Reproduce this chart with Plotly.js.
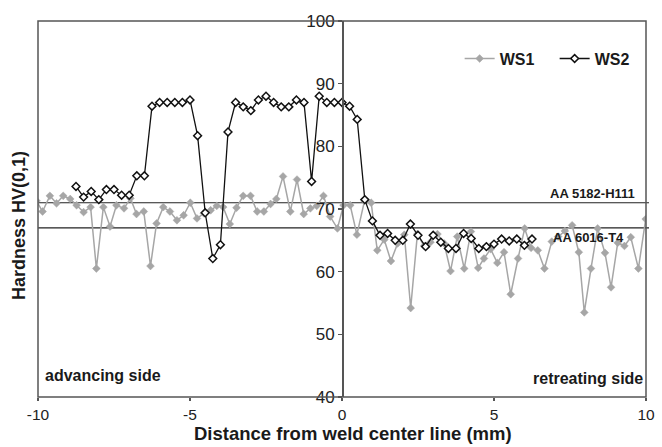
<!DOCTYPE html>
<html>
<head>
<meta charset="utf-8">
<script src="https://cdn.plot.ly/plotly-3.0.1.min.js"></script>
<style>html,body{margin:0;padding:0;background:#fff}#chart{width:662px;height:447px}</style>
</head>
<body>
<div id="chart"></div>
<script>
// WS1 (grey diamonds)
const ws1X = [-10.05, -9.85, -9.61, -9.39, -9.17, -8.94, -8.73, -8.50, -8.27, -8.08, -7.85, -7.63, -7.42, -7.17, -6.96, -6.76, -6.52, -6.30, -6.10, -5.88, -5.66, -5.43, -5.21, -4.99, -4.77, -4.54, -4.32, -4.12, -3.91, -3.69, -3.47, -3.25, -3.01, -2.79, -2.57, -2.35, -2.16, -1.94, -1.70, -1.48, -1.26, -1.04, -0.83, -0.61, -0.39, -0.15, 0.05, 0.27, 0.49, 0.74, 0.96, 1.16, 1.39, 1.61, 1.83, 2.05, 2.26, 2.48, 2.70, 2.91, 3.14, 3.36, 3.57, 3.79, 4.02, 4.24, 4.48, 4.67, 4.89, 5.11, 5.33, 5.55, 5.79, 6.01, 6.22, 6.44, 6.66, 6.90, 7.11, 7.33, 7.57, 7.79, 7.97, 8.19, 8.41, 8.65, 8.85, 9.07, 9.29, 9.50, 9.75, 9.99];
const ws1Y = [71.3, 69.6, 72.1, 70.9, 72.1, 71.6, 70.6, 69.5, 70.3, 60.5, 70.3, 67.2, 70.6, 70.1, 71.7, 69.2, 69.6, 60.9, 67.7, 70.3, 69.6, 68.2, 69.0, 71.0, 68.5, 69.3, 69.8, 70.5, 70.3, 67.6, 70.2, 72.1, 72.1, 69.6, 69.6, 70.8, 71.6, 75.2, 69.6, 74.7, 69.2, 70.1, 70.5, 72.1, 68.8, 66.9, 70.6, 70.6, 65.9, 71.3, 71.0, 63.4, 65.1, 61.7, 64.5, 65.9, 54.2, 66.0, 64.1, 64.7, 66.0, 64.5, 60.1, 65.6, 60.5, 66.4, 60.6, 62.1, 63.6, 61.4, 63.1, 56.4, 62.1, 66.9, 63.8, 63.4, 60.5, 64.8, 65.6, 66.5, 67.4, 63.1, 53.5, 60.5, 66.9, 63.0, 57.5, 64.6, 64.1, 65.5, 60.5, 68.4];

// WS2 (black line, open markers)
const ws2X = [-8.75, -8.5, -8.25, -8.0, -7.75, -7.5, -7.25, -7.0, -6.75, -6.5, -6.25, -6.0, -5.75, -5.5, -5.25, -5.0, -4.75, -4.5, -4.25, -4.0, -3.75, -3.5, -3.25, -3.0, -2.75, -2.5, -2.25, -2.0, -1.75, -1.5, -1.25, -1.0, -0.75, -0.5, -0.25, 0.0, 0.25, 0.5, 0.75, 1.0, 1.25, 1.5, 1.75, 2.0, 2.25, 2.5, 2.75, 3.0, 3.25, 3.5, 3.75, 4.0, 4.25, 4.5, 4.75, 5.0, 5.25, 5.5, 5.75, 6.0, 6.25];
const ws2Y = [73.6, 71.9, 72.8, 71.5, 73.1, 73.1, 72.2, 72.2, 75.3, 75.3, 86.4, 87.0, 87.0, 87.0, 87.0, 87.4, 81.7, 69.4, 62.1, 64.3, 82.3, 87.0, 86.3, 85.7, 87.4, 88.0, 87.0, 86.3, 86.3, 87.4, 87.0, 74.4, 88.0, 87.0, 87.0, 87.0, 86.4, 84.3, 71.5, 68.1, 65.8, 66.1, 65.0, 65.0, 67.6, 65.8, 64.0, 65.8, 64.7, 63.7, 63.7, 66.1, 65.3, 63.7, 64.0, 64.4, 65.2, 64.9, 65.2, 64.2, 65.2];

// Reference base-material hardness levels
const refNames = ["AA 5182-H111", "AA 6016-T4"];
const refLevels = [71, 67];

const xTicks = [-10, -5, 0, 5, 10];
const yTicks = [40, 50, 60, 70, 80, 90, 100];

const FONT = "Arial, 'Liberation Sans', Helvetica, sans-serif";
const TXT = "#1a1a1a";

const traces = [
  {
    x: ws1X, y: ws1Y, name: "WS1", type: "scatter", mode: "lines+markers",
    line: {color: "#a6a6a6", width: 1.5},
    marker: {symbol: "diamond", size: 6, color: "#a6a6a6", line: {color: "#a6a6a6", width: 0.5}},
    cliponaxis: true
  },
  {
    x: ws2X, y: ws2Y, name: "WS2", type: "scatter", mode: "lines+markers",
    line: {color: "#111111", width: 1.3},
    marker: {symbol: "diamond", size: 6, color: "#ffffff", line: {color: "#111111", width: 1.5}},
    cliponaxis: true
  }
];

const shapes = [
  {type: "rect", xref: "paper", yref: "paper", x0: 0, x1: 1, y0: 0, y1: 1,
   line: {color: "#555555", width: 1.5}, layer: "above"}
];
refLevels.forEach(v => shapes.push({
  type: "line", xref: "paper", yref: "y", x0: 0, x1: 1.005, y0: v, y1: v,
  line: {color: "#222222", width: 1.2}, layer: "below"
}));

const annotations = [
  {text: "<b>" + refNames[0] + "</b>", xref: "paper", yref: "y", x: 0.985, y: refLevels[0],
   xanchor: "right", yanchor: "bottom", showarrow: false, yshift: 0,
   font: {family: FONT, size: 13, color: TXT}},
  {text: "<b>" + refNames[1] + "</b>", xref: "paper", yref: "y", x: 0.967, y: refLevels[1],
   xanchor: "right", yanchor: "top", showarrow: false, yshift: 0,
   font: {family: FONT, size: 13, color: TXT}},
  {text: "<b>advancing side</b>", xref: "paper", yref: "paper", x: 0.008, y: 0.058,
   xanchor: "left", yanchor: "middle", showarrow: false,
   font: {family: FONT, size: 16, color: TXT}},
  {text: "<b>retreating side</b>", xref: "paper", yref: "paper", x: 0.998, y: 0.048,
   xanchor: "right", yanchor: "middle", showarrow: false,
   font: {family: FONT, size: 16, color: TXT}},
  {text: "<b>Hardness HV(0,1)</b>", xref: "paper", yref: "paper", x: -0.031, y: 0.455,
   xanchor: "center", yanchor: "middle", textangle: -90, showarrow: false,
   font: {family: FONT, size: 18, color: TXT}},
  {text: "<b>Distance from weld center line (mm)</b>", xref: "paper", yref: "paper",
   x: 0.518, y: -0.1315, xanchor: "center", yanchor: "bottom", showarrow: false,
   font: {family: FONT, size: 18.5, color: TXT}}
];

const layout = {
  width: 662, height: 447,
  margin: {l: 38, r: 14, t: 21, b: 50},
  paper_bgcolor: "#ffffff", plot_bgcolor: "#ffffff",
  font: {family: FONT, color: TXT},
  showlegend: true,
  legend: {orientation: "h", x: 1.006, xanchor: "right", y: 0.9, yanchor: "middle",
           font: {family: FONT, size: 16, color: TXT, weight: "bold"},
           bgcolor: "rgba(0,0,0,0)", itemwidth: 30, entrywidth: 50, entrywidthmode: "pixels"},
  xaxis: {
    range: [-10, 10], tickvals: xTicks, ticktext: xTicks.map(String),
    showgrid: false, zeroline: false, showline: false,
    ticks: "outside", ticklen: 3, tickcolor: "#555555", tickwidth: 1.3,
    tickfont: {family: FONT, size: 15.5, color: "#222222"}
  },
  yaxis: {
    range: [40, 100], tickvals: yTicks, ticktext: yTicks.map(String),
    anchor: "free", position: 0.5,
    showgrid: false, zeroline: false, showline: true, linecolor: "#555555", linewidth: 1.5,
    ticks: "outside", ticklen: 4, tickcolor: "#555555", tickwidth: 1.3,
    tickfont: {family: FONT, size: 17, color: "#222222"}
  },
  shapes: shapes,
  annotations: annotations
};

Plotly.newPlot("chart", traces, layout, {displayModeBar: false, staticPlot: true});
</script>
</body>
</html>
